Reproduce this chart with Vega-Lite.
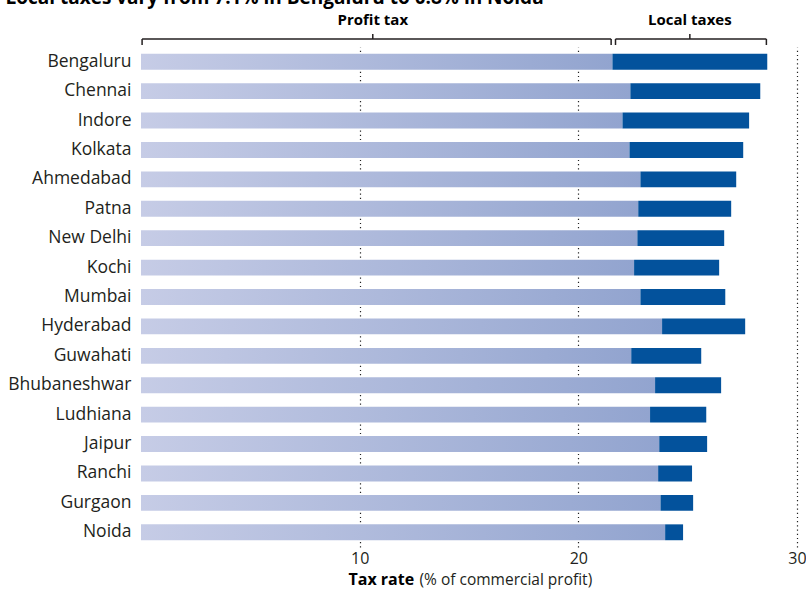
{
  "$schema": "https://vega.github.io/schema/vega-lite/v6.json",
  "width": 656,
  "height": 500,
  "autosize": "none",
  "padding": {"left": 141, "top": 47, "right": 9, "bottom": 43},
  "background": "white",
  "config": {
    "font": "Open Sans",
    "view": {"stroke": null}
  },
  "datasets": {
    "cities": [
      {"city": "Bengaluru", "profit_tax": 21.56, "total_tax": 28.64},
      {"city": "Chennai", "profit_tax": 22.38, "total_tax": 28.32},
      {"city": "Indore", "profit_tax": 22.02, "total_tax": 27.81},
      {"city": "Kolkata", "profit_tax": 22.34, "total_tax": 27.54},
      {"city": "Ahmedabad", "profit_tax": 22.84, "total_tax": 27.22},
      {"city": "Patna", "profit_tax": 22.74, "total_tax": 26.99},
      {"city": "New Delhi", "profit_tax": 22.70, "total_tax": 26.67},
      {"city": "Kochi", "profit_tax": 22.55, "total_tax": 26.44},
      {"city": "Mumbai", "profit_tax": 22.84, "total_tax": 26.72},
      {"city": "Hyderabad", "profit_tax": 23.83, "total_tax": 27.63},
      {"city": "Guwahati", "profit_tax": 22.42, "total_tax": 25.62},
      {"city": "Bhubaneshwar", "profit_tax": 23.51, "total_tax": 26.53},
      {"city": "Ludhiana", "profit_tax": 23.28, "total_tax": 25.85},
      {"city": "Jaipur", "profit_tax": 23.70, "total_tax": 25.89},
      {"city": "Ranchi", "profit_tax": 23.65, "total_tax": 25.20},
      {"city": "Gurgaon", "profit_tax": 23.76, "total_tax": 25.25},
      {"city": "Noida", "profit_tax": 23.97, "total_tax": 24.79}
    ],
    "braces": [
      {"part": "Profit tax", "start": 0.05, "end": 21.5, "mid": 10.6},
      {"part": "Local taxes", "start": 21.7, "end": 28.6, "mid": 25.1}
    ]
  },
  "resolve": {"axis": {"x": "independent"}},
  "layer": [
    {
      "data": {"name": "cities"},
      "mark": {
        "type": "bar",
        "color": {
          "x1": 0, "y1": 0, "x2": 1, "y2": 0,
          "gradient": "linear",
          "stops": [
            {"offset": 0, "color": "#c6cce6"},
            {"offset": 1, "color": "#92a4cf"}
          ]
        }
      },
      "encoding": {
        "y": {
          "field": "city",
          "type": "nominal",
          "sort": null,
          "scale": {"paddingInner": 0.46, "paddingOuter": 0.23},
          "axis": {
            "title": "Local taxes vary from 7.1% in Bengaluru to 0.8% in Noida",
            "titleAngle": 0,
            "titleAlign": "left",
            "titleBaseline": "alphabetic",
            "titleX": -136,
            "titleY": -44,
            "titleFontSize": 19,
            "titleFontWeight": "bold",
            "titleColor": "#000000",
            "domain": false,
            "ticks": false,
            "labelPadding": 10,
            "labelFontSize": 17.5,
            "labelColor": "#231f20"
          }
        },
        "x": {
          "field": "profit_tax",
          "type": "quantitative",
          "scale": {"domain": [0, 30], "nice": false},
          "axis": {
            "values": [10, 20, 30],
            "grid": true,
            "gridDash": [1.2, 3],
            "gridColor": "#222222",
            "gridWidth": 1.2,
            "domain": false,
            "ticks": false,
            "labelFlush": false,
            "labelPadding": 3,
            "labelFontSize": 16,
            "labelColor": "#231f20",
            "title": "Tax rate",
            "titleFontSize": 16,
            "titleFontWeight": "bold",
            "titleColor": "#000000",
            "titleAlign": "left",
            "titleBaseline": "alphabetic",
            "titleX": 207,
            "titleY": 37
          }
        }
      }
    },
    {
      "data": {"name": "cities"},
      "mark": {"type": "bar", "color": "#03529c"},
      "encoding": {
        "y": {"field": "city", "type": "nominal", "sort": null},
        "x": {
          "field": "profit_tax",
          "type": "quantitative",
          "axis": {
            "orient": "top",
            "labels": false,
            "ticks": false,
            "domain": false,
            "grid": false,
            "title": "(% of commercial profit)",
            "titleFontSize": 15.5,
            "titleFontWeight": "normal",
            "titleColor": "#231f20",
            "titleAlign": "left",
            "titleBaseline": "alphabetic",
            "titleX": 278,
            "titleY": 537
          }
        },
        "x2": {"field": "total_tax"}
      }
    },
    {
      "data": {"name": "braces"},
      "mark": {"type": "rule", "color": "#231f20", "strokeWidth": 1.5},
      "encoding": {
        "x": {"field": "start", "type": "quantitative", "axis": null},
        "x2": {"field": "end"},
        "y": {"value": -8}
      }
    },
    {
      "data": {"name": "braces"},
      "mark": {"type": "rule", "color": "#231f20", "strokeWidth": 1.5},
      "encoding": {
        "x": {"field": "start", "type": "quantitative", "axis": null},
        "y": {"value": -8},
        "y2": {"value": -2}
      }
    },
    {
      "data": {"name": "braces"},
      "mark": {"type": "rule", "color": "#231f20", "strokeWidth": 1.5},
      "encoding": {
        "x": {"field": "end", "type": "quantitative", "axis": null},
        "y": {"value": -8},
        "y2": {"value": -2}
      }
    },
    {
      "data": {"name": "braces"},
      "mark": {"type": "rule", "color": "#231f20", "strokeWidth": 1.5},
      "encoding": {
        "x": {"field": "mid", "type": "quantitative", "axis": null},
        "y": {"value": -13},
        "y2": {"value": -8}
      }
    },
    {
      "data": {"name": "braces"},
      "mark": {"type": "text", "fontWeight": "bold", "fontSize": 15, "color": "#000000", "baseline": "middle"},
      "encoding": {
        "x": {"field": "mid", "type": "quantitative", "axis": null},
        "y": {"value": -27},
        "text": {"field": "part"}
      }
    }
  ]
}
